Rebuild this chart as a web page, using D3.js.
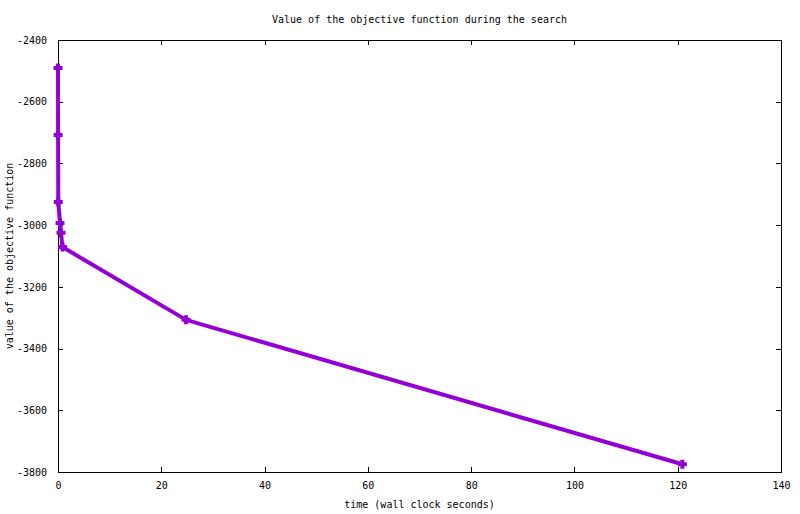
<!DOCTYPE html>
<html>
<head>
<meta charset="utf-8">
<script src="https://cdn.jsdelivr.net/npm/d3@7"></script>
<style>
  body { margin: 0; background: #fff; }
  text { font-family: "DejaVu Sans Mono", "Liberation Mono", monospace; font-size: 10px; fill: #000; }
</style>
</head>
<body>
<div id="chart"></div>
<script>
// data
var times = [0.0, 0.02, 0.05, 0.39, 0.58, 0.87, 24.8, 120.9];
var values = [-2491, -2708, -2925, -2993, -3025, -3071, -3307, -3775];
var xTicks = [0, 20, 40, 60, 80, 100, 120, 140];
var yTicks = [-3800, -3600, -3400, -3200, -3000, -2800, -2600, -2400];

var width = 800, height = 514;
var margin = { left: 58, right: 19, top: 40, bottom: 42 };
var w = width - margin.left - margin.right,
    h = height - margin.top - margin.bottom;

var svg = d3.select("#chart").append("svg")
    .attr("width", width)
    .attr("height", height);

var g = svg.append("g")
    .attr("transform", "translate(" + margin.left + "," + margin.top + ")");

var x = d3.scaleLinear().domain([0, 140]).range([0, w]);
var y = d3.scaleLinear().domain([-3800, -2400]).range([h, 0]);

var fmt = function(d) { return String(d); };

// axes with inward ticks, mirrored on top/right
var tickLen = 5;
g.append("g")
    .attr("transform", "translate(0," + h + ")")
    .call(d3.axisBottom(x).tickValues(xTicks).tickFormat(fmt).tickSizeInner(-tickLen).tickSizeOuter(0).tickPadding(10));
g.append("g")
    .call(d3.axisTop(x).tickValues(xTicks).tickSizeInner(-tickLen).tickSizeOuter(0).tickFormat(""));
g.append("g")
    .call(d3.axisLeft(y).tickValues(yTicks).tickFormat(fmt).tickSizeInner(-tickLen).tickSizeOuter(0).tickPadding(11));
g.append("g")
    .attr("transform", "translate(" + w + ",0)")
    .call(d3.axisRight(y).tickValues(yTicks).tickSizeInner(-tickLen).tickSizeOuter(0).tickFormat(""));

g.selectAll(".domain").remove();
g.selectAll(".tick line").attr("stroke", "#000").attr("shape-rendering", "crispEdges");
g.selectAll(".tick text")
    .style("font-family", "'DejaVu Sans Mono', monospace")
    .style("font-size", "10px");

// frame
g.append("rect")
    .attr("x", 0).attr("y", 0)
    .attr("width", w).attr("height", h)
    .attr("fill", "none")
    .attr("stroke", "#000")
    .attr("shape-rendering", "crispEdges");

// series
var pts = times.map(function(t, i) { return [t, values[i]]; });
var line = d3.line()
    .x(function(d) { return x(d[0]); })
    .y(function(d) { return y(d[1]); });

g.append("path")
    .datum(pts)
    .attr("fill", "none")
    .attr("stroke", "#9400d3")
    .attr("stroke-width", 4)
    .attr("stroke-linejoin", "round")
    .attr("d", line);

var s = 4.5;
g.selectAll(".pt")
    .data(pts)
    .enter().append("path")
    .attr("class", "pt")
    .attr("fill", "none")
    .attr("stroke", "#9400d3")
    .attr("stroke-width", 4)
    .attr("d", function(d) {
        var cx = x(d[0]), cy = y(d[1]);
        return "M" + (cx - s) + "," + cy + "H" + (cx + s) +
               "M" + cx + "," + (cy - s) + "V" + (cy + s);
    });

// labels
svg.append("text")
    .attr("x", margin.left + w / 2)
    .attr("y", 23)
    .attr("text-anchor", "middle")
    .text("Value of the objective function during the search");

svg.append("text")
    .attr("x", margin.left + w / 2)
    .attr("y", 508)
    .attr("text-anchor", "middle")
    .text("time (wall clock seconds)");

svg.append("text")
    .attr("transform", "translate(13," + (margin.top + h / 2) + ") rotate(-90)")
    .attr("text-anchor", "middle")
    .text("value of the objective function");
</script>
</body>
</html>
